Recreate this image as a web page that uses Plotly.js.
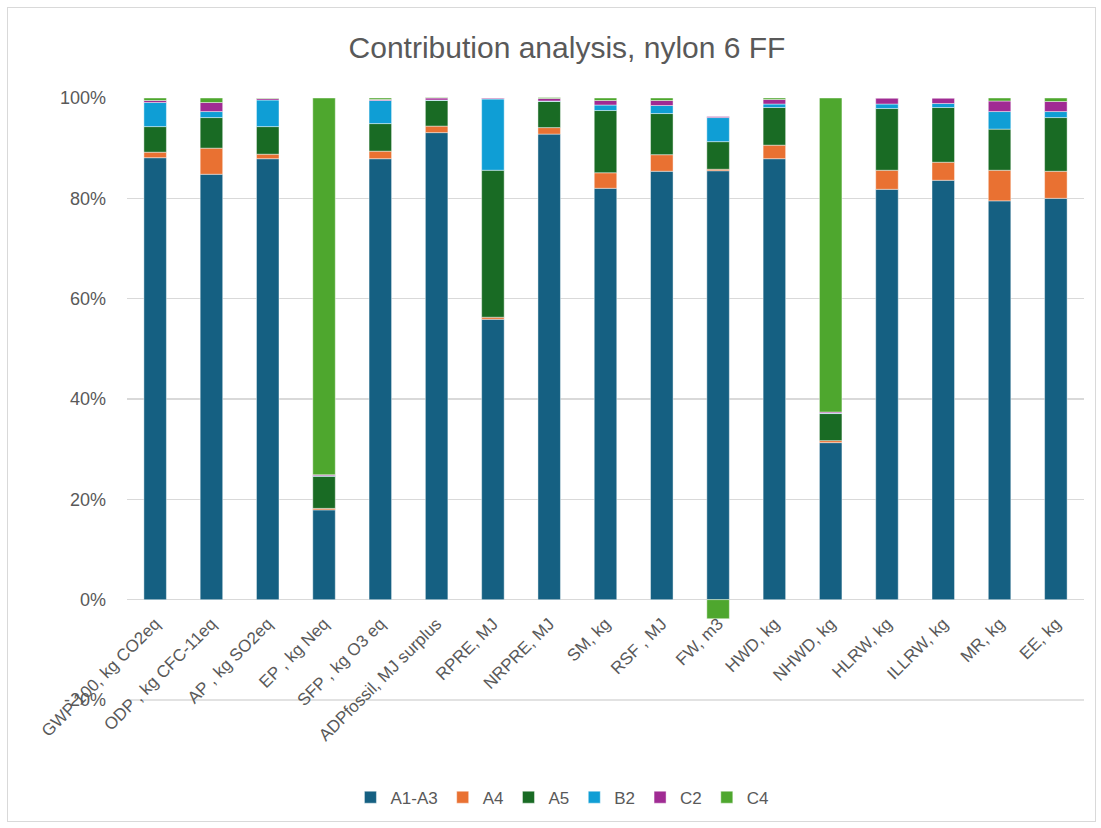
<!DOCTYPE html>
<html>
<head>
<meta charset="utf-8">
<script src="https://cdn.plot.ly/plotly-3.0.1.min.js"></script>
<style>
html,body{margin:0;padding:0;background:#fff;}
#frame{position:absolute;left:7px;top:7px;width:1087px;height:813px;border:1px solid #d9d9d9;}
#chart{position:absolute;left:0;top:0;width:1101px;height:828px;}
</style>
</head>
<body>
<div id="frame"></div>
<div id="chart"></div>
<script>
const categories = ["GWP 100, kg CO2eq","ODP , kg CFC-11eq","AP , kg SO2eq","EP , kg Neq","SFP , kg O3 eq","ADPfossil, MJ surplus","RPRE, MJ","NRPRE, MJ","SM, kg","RSF , MJ","FW, m3","HWD, kg","NHWD, kg","HLRW, kg","ILLRW, kg","MR, kg","EE, kg"];
const seriesNames = ["A1-A3","A4","A5","B2","C2","C4"];
const A1A3 = [88.1,84.8,87.9,17.9,87.9,93.1,55.9,92.8,82.0,85.4,85.5,87.9,31.3,81.8,83.6,79.5,80.0];
const A4   = [1.1, 5.2, 0.9, 0.3, 1.5, 1.3, 0.4, 1.3, 3.1, 3.3, 0.3, 2.7, 0.4, 3.8, 3.6, 6.1, 5.4];
const A5   = [5.1, 6.1, 5.5, 6.4, 5.5, 5.1, 29.3,5.2, 12.4,8.2, 5.5, 7.5, 5.4, 12.3,10.9,8.2, 10.7];
const B2   = [4.8, 1.2, 5.3, 0.1, 4.6, 0.1, 14.2,0.1, 1.1, 1.6, 4.8, 0.7, 0.1, 0.9, 0.8, 3.5, 1.2];
const C2   = [0.4, 1.8, 0.3, 0.2, 0.2, 0.4, 0.2, 0.5, 0.9, 1.0, 0.2, 0.9, 0.2, 1.2, 1.1, 2.1, 2.0];
const C4   = [0.5, 0.9, 0.1, 75.1,0.3, 0.1, 0.0, 0.2, 0.5, 0.5, -3.8,0.3, 62.6,0.0, 0.0, 0.6, 0.7];
const colors = ["#156082","#E97132","#196B24","#0F9ED5","#A02B93","#4EA72E"];
const yTicks = [-20,0,20,40,60,80,100];

const values = [A1A3,A4,A5,B2,C2,C4];
const traces = values.map((v,i)=>({
  type:'bar', name:seriesNames[i], x:categories, y:v,
  marker:{color:colors[i], line:{color:'rgba(255,255,255,0.55)', width:0.8}},
  hoverinfo:'name+y'
}));

const fam = '"Liberation Sans", Arial, sans-serif';
const layout = {
  width:1101, height:828,
  paper_bgcolor:'rgba(0,0,0,0)', plot_bgcolor:'rgba(0,0,0,0)',
  barmode:'relative', bargap:0.6,
  margin:{l:127, r:17, t:97, b:127, autoexpand:false},
  font:{family:fam, color:'#595959'},
  title:{text:'Contribution analysis, nylon 6 FF', x:0.515, xanchor:'center', xref:'container', y:0.943, yanchor:'middle', font:{family:fam, color:'#595959', size:30}},
  xaxis:{type:'category', anchor:'free', position:0.1678, tickangle:-45, tickfont:{size:17, color:'#595959'}, showgrid:false, showline:false, ticks:'', ticklabelstandoff:10, automargin:false},
  yaxis:{range:[-20.2,100.2], tickvals:yTicks, ticktext:yTicks.map(t=>t+'%'), tickfont:{size:18, color:'#595959'}, gridcolor:'#d9d9d9', gridwidth:1.5, zeroline:false, showline:false, ticks:'', ticklabelstandoff:20, automargin:false},
  shapes:[{type:'line', xref:'paper', x0:0, x1:1, yref:'y', y0:yTicks[0], y1:yTicks[0], line:{color:'#d9d9d9', width:1.5}, layer:'below'}],
  legend:{orientation:'h', x:0.455, xanchor:'center', y:-0.16, yanchor:'middle', font:{size:17, color:'#595959'}, traceorder:'normal', itemwidth:30},
  showlegend:true
};
Plotly.newPlot('chart', traces, layout, {displayModeBar:false, staticPlot:true});
</script>
</body>
</html>
